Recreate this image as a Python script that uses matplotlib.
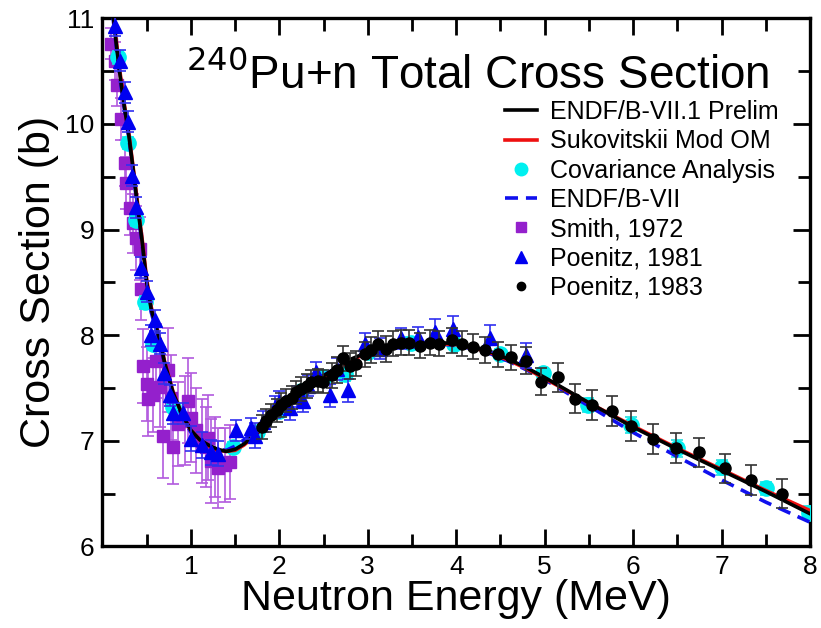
import matplotlib
matplotlib.use('Agg')
import matplotlib.pyplot as plt
from matplotlib.lines import Line2D
from matplotlib.ticker import MultipleLocator

plt.rcParams['font.family'] = ['Liberation Sans', 'DejaVu Sans']

# ENDF/B-VII.1 Prelim (black line)
e71_x = [0.12, 0.15, 0.2, 0.25, 0.3, 0.35, 0.4, 0.45, 0.5, 0.55, 0.6, 0.65, 0.7, 0.8, 0.9, 1.0,
         1.1, 1.2, 1.3, 1.4, 1.5, 1.6, 1.7, 1.8, 1.9, 2.0, 2.2, 2.4, 2.6, 2.8, 3.0, 3.2, 3.4,
         3.6, 3.8, 4.0, 4.2, 4.4, 4.6, 4.8, 5.0, 5.5, 6.0, 6.5, 7.0, 7.5, 8.0]
e71_y = [11.05, 10.8, 10.45, 10.15, 9.88, 9.55, 9.2, 8.88, 8.5, 8.25, 8.1, 7.95, 7.75, 7.45, 7.25, 7.1,
         7.01, 6.96, 6.92, 6.9, 6.92, 6.97, 7.04, 7.12, 7.2, 7.28, 7.43, 7.56, 7.67, 7.77, 7.84, 7.89, 7.92,
         7.93, 7.93, 7.92, 7.89, 7.84, 7.77, 7.69, 7.6, 7.36, 7.13, 6.92, 6.72, 6.52, 6.31]

# Sukovitskii Mod OM (red line)
suk_x = [0.12, 0.15, 0.2, 0.25, 0.3, 0.35, 0.4, 0.45, 0.5, 0.55, 0.6, 0.65, 0.7, 0.8, 0.9, 1.0,
         1.1, 1.2, 1.3, 1.4, 1.5, 1.6, 1.7, 1.8, 1.9, 2.0, 2.2, 2.4, 2.6, 2.8, 3.0, 3.2, 3.4,
         3.6, 3.8, 4.0, 4.2, 4.4, 4.6, 4.8, 5.0, 5.5, 6.0, 6.5, 7.0, 7.5, 8.0]
suk_y = [11.08, 10.83, 10.48, 10.17, 9.9, 9.57, 9.23, 8.9, 8.53, 8.27, 8.12, 7.96, 7.76, 7.46, 7.25, 7.1,
         7.01, 6.95, 6.91, 6.9, 6.91, 6.96, 7.03, 7.11, 7.19, 7.27, 7.42, 7.55, 7.66, 7.76, 7.83, 7.88, 7.91,
         7.92, 7.92, 7.91, 7.88, 7.83, 7.76, 7.68, 7.59, 7.36, 7.14, 6.93, 6.73, 6.53, 6.34]

# ENDF/B-VII (blue dashed)
e7_x = [0.12, 0.15, 0.2, 0.25, 0.3, 0.35, 0.4, 0.45, 0.5, 0.55, 0.6, 0.65, 0.7, 0.8, 0.9, 1.0,
        1.1, 1.2, 1.3, 1.4, 1.5, 1.6, 1.7, 1.8, 1.9, 2.0, 2.2, 2.4, 2.6, 2.8, 3.0, 3.2, 3.4,
        3.6, 3.8, 4.0, 4.2, 4.4, 4.6, 4.8, 5.0, 5.5, 6.0, 6.5, 7.0, 7.5, 8.0]
e7_y = [11.0, 10.78, 10.42, 10.12, 9.86, 9.52, 9.17, 8.85, 8.47, 8.22, 8.07, 7.92, 7.73, 7.43, 7.23, 7.08,
        7.0, 6.95, 6.92, 6.91, 6.95, 7.01, 7.08, 7.16, 7.23, 7.31, 7.45, 7.57, 7.67, 7.76, 7.83, 7.88, 7.91,
        7.92, 7.92, 7.9, 7.87, 7.82, 7.75, 7.67, 7.58, 7.33, 7.08, 6.85, 6.63, 6.42, 6.23]

# Covariance Analysis (cyan circles)
cov_x = [0.18, 0.29, 0.38, 0.48, 0.57, 0.8, 1.48, 1.75, 2.0, 2.25, 2.5, 2.74, 3.0, 3.49, 3.98,
         4.5, 4.98, 5.49, 5.98, 6.5, 7.0, 7.5, 7.99]
cov_y = [10.63, 9.82, 9.09, 8.31, 7.92, 7.32, 6.94, 7.08, 7.28, 7.47, 7.6, 7.63, 7.84, 7.93, 7.92,
         7.82, 7.64, 7.34, 7.15, 6.93, 6.75, 6.55, 6.32]
cov_err = [0.06, 0.06, 0.06, 0.06, 0.06, 0.05, 0.05, 0.05, 0.05, 0.05, 0.05, 0.06, 0.05, 0.05, 0.05,
           0.05, 0.05, 0.07, 0.08, 0.08, 0.07, 0.06, 0.06]

# Smith, 1972 (purple squares)
smith_x = [0.10, 0.14, 0.16, 0.21, 0.25, 0.27, 0.31, 0.35, 0.38, 0.42, 0.44, 0.46, 0.50, 0.51, 0.57,
           0.61, 0.65, 0.68, 0.74, 0.78, 0.80, 0.85, 0.93, 0.97, 1.0, 1.06, 1.12, 1.17, 1.19, 1.23,
           1.27, 1.31, 1.38, 1.44]
smith_y = [10.76, 10.6, 10.37, 10.05, 9.63, 9.44, 9.2, 9.06, 8.92, 8.82, 8.44, 7.71, 7.54, 7.4, 7.43,
           7.76, 7.51, 7.05, 7.67, 7.41, 6.94, 7.16, 7.19, 7.38, 7.22, 7.1, 7.0, 6.94, 7.03, 6.81,
           6.85, 6.74, 6.77, 6.8]
smith_err = [0.15, 0.18, 0.2, 0.2, 0.22, 0.25, 0.25, 0.28, 0.3, 0.3, 0.3, 0.35, 0.35, 0.35, 0.35,
             0.35, 0.38, 0.4, 0.4, 0.4, 0.35, 0.4, 0.42, 0.4, 0.42, 0.4, 0.4, 0.38, 0.4, 0.4,
             0.38, 0.38, 0.35, 0.35]

# Poenitz, 1981 (blue triangles)
p81_x = [0.14, 0.2, 0.25, 0.29, 0.33, 0.38, 0.44, 0.50, 0.55, 0.59, 0.65, 0.70, 0.76, 0.80, 0.91,
         1.0, 1.12, 1.23, 1.31, 1.51, 1.68, 1.72, 1.82, 1.95, 2.0, 2.12, 2.2, 2.27, 2.32, 2.42,
         2.57, 2.65, 2.78, 2.97, 3.14, 3.38, 3.57, 3.76, 3.96, 4.38, 4.79]
p81_y = [10.93, 10.6, 10.3, 10.02, 9.51, 9.21, 8.64, 8.41, 8.0, 8.14, 7.92, 7.64, 7.43, 7.26, 7.26,
         7.02, 6.96, 6.89, 6.88, 7.1, 7.12, 7.05, 7.18, 7.32, 7.37, 7.31, 7.42, 7.38, 7.52, 7.65,
         7.43, 7.68, 7.48, 7.92, 7.87, 7.97, 7.98, 8.03, 8.06, 7.97, 7.81]
p81_err = [0.1, 0.1, 0.1, 0.1, 0.1, 0.1, 0.1, 0.1, 0.1, 0.1, 0.1, 0.1, 0.1, 0.1, 0.1,
           0.12, 0.12, 0.12, 0.12, 0.1, 0.1, 0.12, 0.1, 0.1, 0.1, 0.11, 0.1, 0.11, 0.1, 0.1,
           0.11, 0.1, 0.11, 0.1, 0.1, 0.1, 0.1, 0.12, 0.12, 0.13, 0.12]

# Poenitz, 1983 (black circles)
p83_x = [1.80, 1.85, 1.91, 1.97, 2.02, 2.08, 2.14, 2.19, 2.25, 2.31, 2.36, 2.44, 2.49, 2.59, 2.65,
         2.72, 2.80, 2.87, 2.97, 3.04, 3.12, 3.21, 3.29, 3.38, 3.47, 3.59, 3.70, 3.81, 3.95, 4.06,
         4.19, 4.32, 4.47, 4.62, 4.79, 4.96, 5.15, 5.34, 5.53, 5.76, 5.98, 6.23, 6.49, 6.74, 7.04,
         7.33, 7.68]
p83_y = [7.13, 7.19, 7.24, 7.29, 7.34, 7.38, 7.41, 7.46, 7.49, 7.52, 7.56, 7.57, 7.56, 7.62, 7.67,
         7.78, 7.71, 7.73, 7.82, 7.86, 7.92, 7.87, 7.92, 7.93, 7.93, 7.9, 7.93, 7.92, 7.95, 7.92,
         7.89, 7.86, 7.82, 7.79, 7.76, 7.56, 7.6, 7.4, 7.34, 7.28, 7.14, 7.02, 6.93, 6.89, 6.74,
         6.63, 6.5]
p83_err = [0.11, 0.11, 0.11, 0.11, 0.11, 0.11, 0.11, 0.11, 0.11, 0.11, 0.11, 0.11, 0.11, 0.12, 0.12,
           0.12, 0.12, 0.12, 0.12, 0.12, 0.12, 0.12, 0.12, 0.12, 0.12, 0.12, 0.12, 0.12, 0.12, 0.12,
           0.12, 0.12, 0.12, 0.12, 0.13, 0.13, 0.14, 0.14, 0.14, 0.14, 0.14, 0.14, 0.14, 0.14, 0.14,
           0.14, 0.14]

purple = '#9420cc'
purple_err = '#b25ade'
dash = (3.6, 2.2)

fig = plt.figure(figsize=(8.21, 6.28), dpi=100)
ax = fig.add_axes([0.1248, 0.1298, 0.8618, 0.8411])

ax.errorbar(smith_x, smith_y, yerr=smith_err, fmt='s', color=purple, ms=9, ecolor=purple_err,
            elinewidth=1.2, capsize=4, capthick=1.2, zorder=2)
ax.errorbar(cov_x, cov_y, yerr=cov_err, fmt='o', color='#00f0f0', ms=11, ecolor='#20e0e0',
            elinewidth=1.2, capsize=4, capthick=1.2, zorder=3)
ax.plot(e7_x, e7_y, color='#1010ee', lw=2.6, dashes=dash, zorder=4)
ax.plot(suk_x, suk_y, color='#ee1010', lw=2.6, zorder=4)
ax.plot(e71_x, e71_y, color='black', lw=2.6, zorder=5)
ax.errorbar(p81_x, p81_y, yerr=p81_err, fmt='^', color='#0000f0', ms=10.5, ecolor='#3030f0',
            elinewidth=1.2, capsize=4, capthick=1.2, zorder=6)
ax.errorbar(p83_x, p83_y, yerr=p83_err, fmt='o', color='black', ms=8, ecolor='#333333',
            elinewidth=1.2, capsize=4, capthick=1.2, zorder=7)

ax.set_xlim(0, 8)
ax.set_ylim(6, 11)
ax.xaxis.set_minor_locator(MultipleLocator(0.5))
ax.yaxis.set_major_locator(MultipleLocator(1))
ax.yaxis.set_minor_locator(MultipleLocator(0.5))
ax.set_xticks([1, 2, 3, 4, 5, 6, 7, 8])
ax.tick_params(which='both', direction='in', top=True, right=True, width=2, labelsize=19, pad=6)
ax.tick_params(which='major', length=12)
ax.tick_params(which='minor', length=9)
for sp in ax.spines.values():
    sp.set_linewidth(2.4)

ax.set_xlabel('Neutron Energy (MeV)', fontsize=31, labelpad=0)
ax.set_ylabel('Cross Section (b)', fontsize=31, labelpad=4)

ax.text(0.53, 0.893, r'$^{240}$Pu+n Total Cross Section', transform=ax.transAxes,
        ha='center', va='center', fontsize=33)

handles = [
    Line2D([], [], color='black', lw=2.6),
    Line2D([], [], color='#ee1010', lw=2.6),
    Line2D([], [], color='#00f0f0', marker='o', ms=9, ls='none'),
    Line2D([], [], color='#1010ee', lw=2.6, dashes=dash),
    Line2D([], [], color=purple, marker='s', ms=7, ls='none'),
    Line2D([], [], color='#0000f0', marker='^', ms=8, ls='none'),
    Line2D([], [], color='black', marker='o', ms=6, ls='none'),
]
labels = ['ENDF/B-VII.1 Prelim', 'Sukovitskii Mod OM', 'Covariance Analysis', 'ENDF/B-VII',
          'Smith, 1972', 'Poenitz, 1981', 'Poenitz, 1983']
ax.legend(handles, labels, loc='upper right', bbox_to_anchor=(0.955, 0.845), frameon=False,
          fontsize=18, handlelength=1.3, handletextpad=0.5, labelspacing=0.21, borderaxespad=0,
          borderpad=0)

fig.savefig('out.png', dpi=100)
